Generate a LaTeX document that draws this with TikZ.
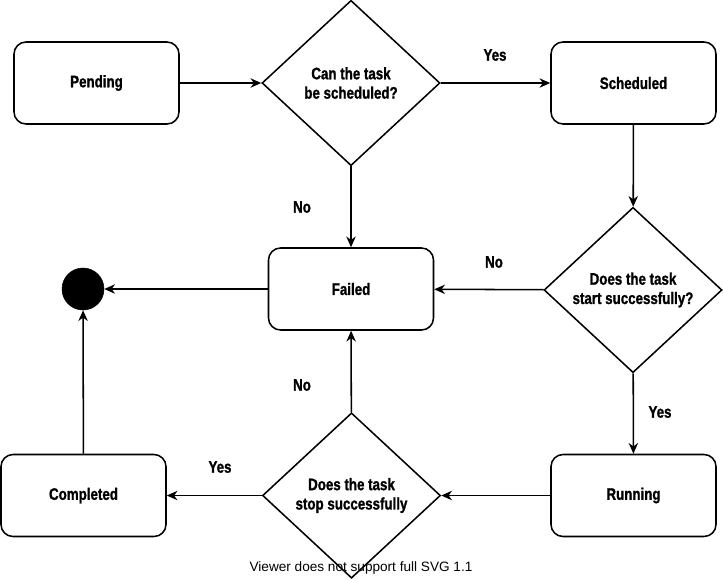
\documentclass[tikz,border=0pt]{standalone}
\usepackage{fontspec}
\setmainfont{Liberation Sans}
\newfontfamily\condfont[FakeStretch=0.8, BoldFeatures={FakeBold=1.2}]{Liberation Sans}
\usetikzlibrary{shapes.geometric,arrows.meta}

\tikzset{
  flowline/.style={line width=1.15pt},
  stepbox/.style={draw, flowline, rectangle, rounded corners=9pt,
    minimum width=123.75pt, minimum height=61.5pt, inner sep=0pt,
    font=\condfont\bfseries\fontsize{12.5}{14.5}\selectfont, align=center},
  decision/.style={draw, flowline, diamond, inner sep=0pt,
    minimum width=133.5pt, minimum height=124pt,
    font=\condfont\bfseries\fontsize{12.5}{14.5}\selectfont, align=center},
  finalstate/.style={circle, fill=black, draw=black, minimum size=31.5pt, inner sep=0pt},
  conn/.style={flowline, -{Stealth[length=8pt,width=7pt,inset=2.5pt]}},
  edgelabel/.style={font=\condfont\bfseries\fontsize{12.5}{14.5}\selectfont}
}

\begin{document}
\begin{tikzpicture}[x=0.75pt, y=-0.75pt]
  \useasboundingbox (0,0) rectangle (723,579);

  % states
  \node[stepbox] (pending)   at (96.5,83)  {Pending};
  \node[stepbox] (scheduled) at (633.5,83) {Scheduled};
  \node[stepbox] (failed)    at (351,289)  {Failed};
  \node[stepbox] (completed) at (83.5,495.5) {Completed};
  \node[stepbox] (running)   at (633.5,495.5) {Running};
  \node[finalstate] (final)  at (83,289) {};

  % decisions
  \node[decision] (canschedule) at (351,83)  {Can the task\\be scheduled?};
  \node[decision] (canstart)    at (633,290) {Does the task\\start successfully?};
  \node[decision] (canstop)     at (351.5,495.5) {Does the task\\stop successfully};

  % transitions
  \draw[conn] (pending) -- (canschedule);
  \draw[conn] (canschedule) -- (scheduled);
  \draw[conn] (canschedule) -- (failed);
  \draw[conn] (scheduled) -- (canstart);
  \draw[conn] (canstart) -- (failed);
  \draw[conn] (canstart) -- (running);
  \draw[conn] (failed) -- (final);
  \draw[conn] (running) -- (canstop);
  \draw[conn] (canstop) -- (failed);
  \draw[conn] (canstop) -- (completed);
  \draw[conn] (completed) -- (final);

  % transition labels
  \node[edgelabel] (lyes1) at (495,55)  {Yes};
  \node[edgelabel] (lno1)  at (302,207) {No};
  \node[edgelabel] (lno2)  at (494,262) {No};
  \node[edgelabel] (lyes2) at (660,412) {Yes};
  \node[edgelabel] (lno3)  at (302,385) {No};
  \node[edgelabel] (lyes3) at (220,467) {Yes};

  % viewer notice
  \node[font=\fontsize{10.2}{12}\selectfont] (notice) at (361,568) {Viewer does not support full SVG 1.1};
\end{tikzpicture}
\end{document}
